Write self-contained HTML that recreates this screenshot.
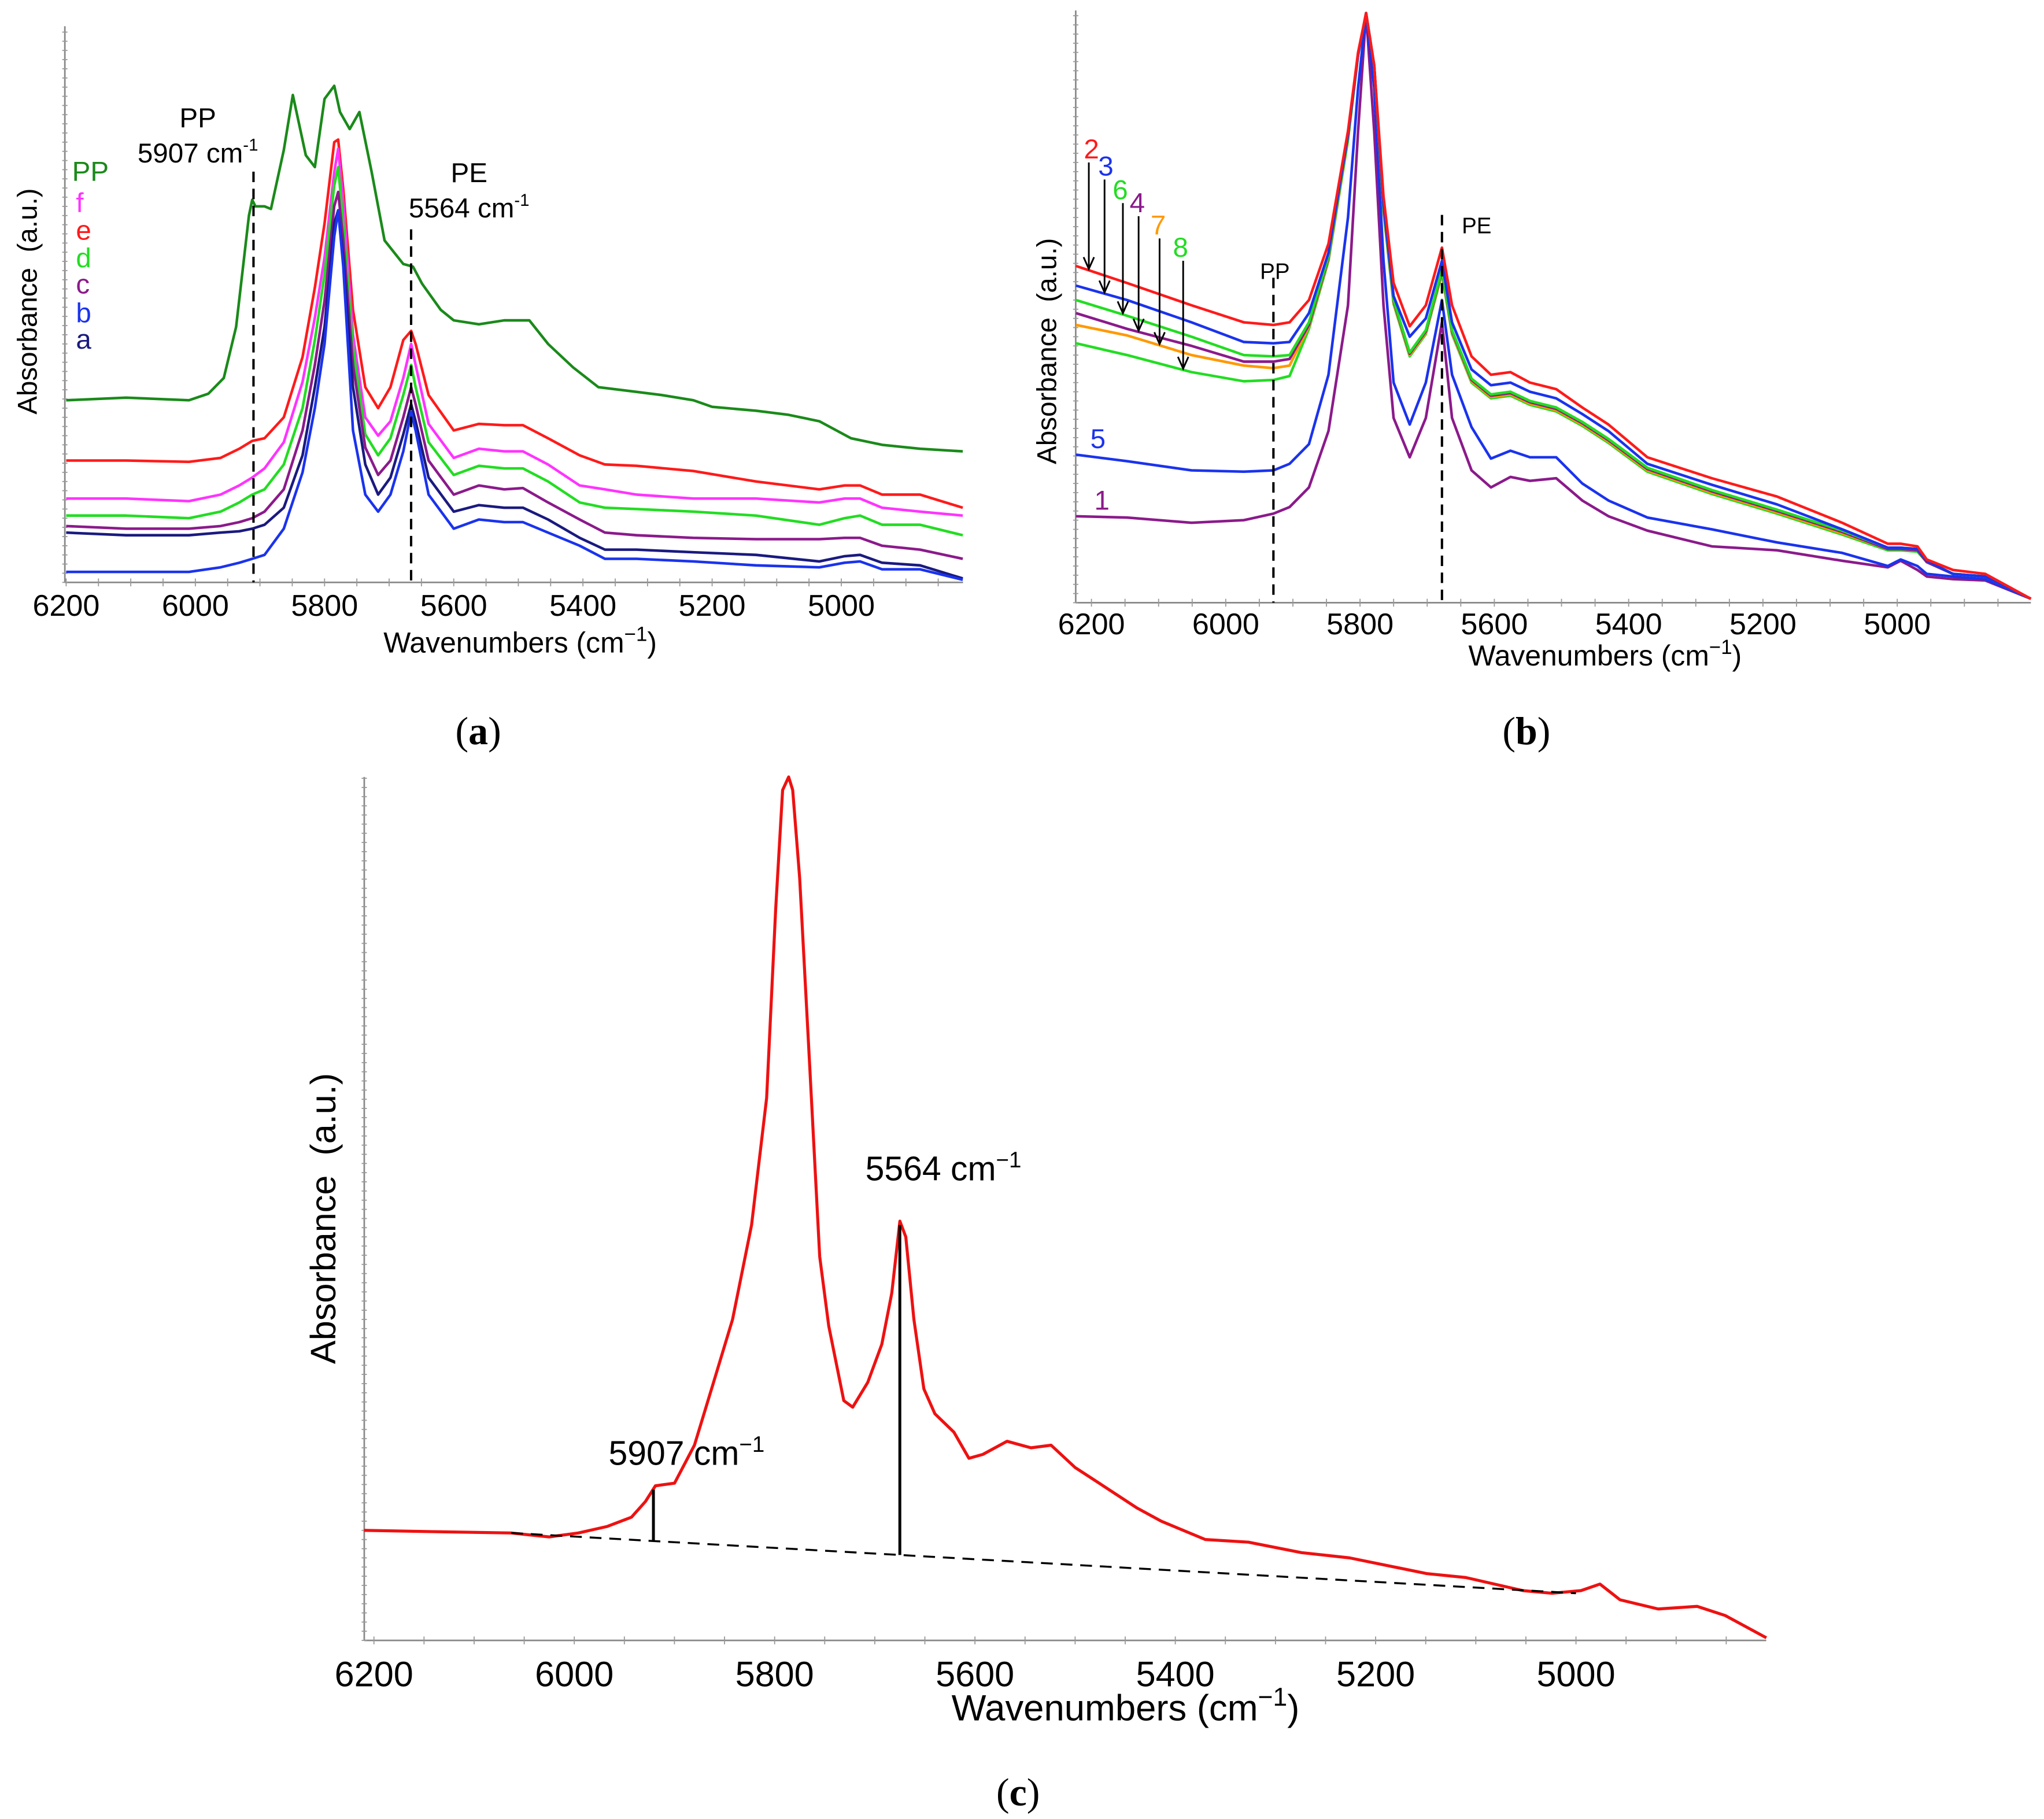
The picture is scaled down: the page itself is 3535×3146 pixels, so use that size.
<!DOCTYPE html>
<html><head><meta charset="utf-8"><style>
html,body{margin:0;padding:0;background:#fff}
svg{display:block}
text{font-family:"Liberation Sans",sans-serif}
.cap{font-family:"Liberation Serif",serif;font-size:30px}
</style></head><body>
<svg id="fig" xmlns="http://www.w3.org/2000/svg" width="3535" height="3146" viewBox="0 0 1560 1388.3" preserveAspectRatio="none">
<g id="pa"></g>
<g id="pb"></g>
<g id="pc"></g>
<text class="cap" x="365" y="568" text-anchor="middle">(<tspan font-weight="bold">a</tspan>)</text>
<text class="cap" x="1165" y="568" text-anchor="middle">(<tspan font-weight="bold">b</tspan>)</text>
<text class="cap" x="777" y="1378" text-anchor="middle">(<tspan font-weight="bold">c</tspan>)</text>
</svg>
<script>
// ---------- Panel A data ----------
const aX = [6200,6107,6010,5961,5932,5912,5893,5863,5834,5815,5800,5785,5779,5771,5756,5737,5717,5698,5678,5666,5659,5639,5600,5561,5522,5493,5454,5405,5366,5317,5229,5132,5034,4995,4971,4937,4878,4812];
const aSeriesA = [8,8,8,11.5,15,18,21,41,84,133,182,264,284,241,116,67,54,67,100,130,116,67,41,48,46,46,38,28,18,18,16,13,11.5,15,16,10,10,2];
const aSeriesB = [38,36,36,38,39,41,44,57,97,149,195,274,284,248,149,90,67,80,113,136,123,80,54,59,57,57,48,34,25,25,23,21,16,20,21,15,13,3];
const aSeriesC = [43,41,41,43,46,49,54,71,116,166,215,287,298,261,166,103,82,93,126,149,136,93,67,74,71,72,61,48,38,36,34,33,33,34,34,28,25,18];
const aSeriesD = [51,51,49,54,61,67,71,90,133,185,235,303,317,274,179,113,97,110,143,166,149,107,82,89,87,87,77,61,57,56,54,51,44,49,51,44,44,36];
const aSeriesF = [64,64,62,67,74,80,87,107,153,202,248,313,331,290,189,126,112,123,156,182,166,121,95,102,100,100,90,74,71,67,64,64,61,64,64,57,54,51];
const aSeriesE = [93,93,92,95,102,108,110,126,172,225,274,336,338,300,208,149,133,149,185,192,182,143,116,121,120,120,110,97,90,89,85,77,71,74,74,67,67,57];
const aPPX = [6200,6107,6010,5980,5956,5937,5917,5912,5907,5893,5883,5863,5849,5829,5815,5800,5785,5776,5761,5746,5727,5707,5678,5663,5649,5620,5600,5561,5522,5483,5454,5415,5376,5327,5278,5229,5200,5132,5083,5034,4985,4937,4878,4812];
const aPP = [139,141,139,144,156,195,280,292,287,287,285,330,372,326,317,369,379,359,346,359,313,261,243,241,228,208,200,197,200,200,182,164,149,146,143,139,134,131,128,123,110,105,102,100];
const aTicks = [6200,6000,5800,5600,5400,5200,5000];
const aMarkers = [5910,5666];
const aMarkerTops = [131,175];
// ---------- Panel B data ----------
const bX = [6223,6147,6051,5973,5929,5905,5876,5847,5818,5803,5791,5779,5765,5750,5726,5702,5678,5663,5634,5605,5576,5547,5508,5469,5430,5372,5276,5179,5082,5014,4995,4970,4956,4917,4869,4801];
const bS2 = [257,244,227,214,212,214,231,274,360,420,450,410,310,244,211,227,271,227,188,174,176,168,163,149,136,111,95,81,61,45,45,43,33,25,22,3];
const bS3 = [242,231,214,199,198,199,221,267,357,418,450,410,304,234,203,217,261,214,178,166,168,161,156,144,131,106,90,75,56,42,42,41,32,22,20,3];
const bS6 = [231,219,203,189,188,189,214,264,355,418,450,410,302,231,191,208,254,208,171,159,161,154,149,138,125,103,86,71,55,42,42,41,32,22,20,3];
const bS4 = [221,209,196,184,184,186,212,263,355,418,450,410,301,230,190,207,253,207,170,158,160,153,148,137,124,102,85,70,54,41,41,40,31,22,20,3];
const bS7 = [212,204,189,181,179,181,211,262,354,418,450,410,300,229,189,206,252,206,169,157,159,152,147,136,123,101,84,69,53,41,41,40,31,22,20,3];
const bS8 = [198,189,176,169,170,173,209,261,353,418,450,410,299,228,188,205,251,205,168,156,158,151,146,135,122,100,83,68,52,40,40,39,31,22,20,3];
const bS5 = [113,108,101,100,101,106,121,174,294,393,450,393,261,168,136,168,231,174,134,110,116,111,111,91,78,65,56,46,38,28,33,28,22,20,18,3];
const bS1 = [66,65,61,63,68,73,88,131,227,360,450,360,227,141,111,141,214,141,101,88,96,93,95,78,66,55,43,40,32,27,32,25,20,18,17,3];
const bTicks = [6200,6000,5800,5600,5400,5200,5000];
const bMarkers = [5929,5678];
const bMarkerTops = [248,296];
// ---------- Panel C data ----------
const cX = [6210,6140,6063,6025,5996,5967,5943,5929,5919,5900,5880,5861,5842,5823,5808,5799,5792,5786,5782,5775,5765,5755,5746,5731,5722,5707,5693,5683,5675,5669,5661,5651,5640,5621,5606,5592,5568,5544,5524,5500,5476,5438,5414,5370,5327,5274,5226,5149,5110,5053,5024,4995,4976,4956,4918,4879,4851,4810];
const cY = [84,83,82,79,82,87,94,106,118,120,149,197,245,317,414,558,649,659,649,582,438,293,240,183,178,197,226,265,320,308,245,192,173,159,139,142,152,147,149,132,120,101,91,77,75,67,63,51,48,38,36,38,43,31,24,26,19,2];
const cTicks = [6200,6000,5800,5600,5400,5200,5000];
const cBaseX = [6063,5000];
const cBaseY = [82,36];
const cPeakX = [5921,5675];
const cPeakY = [115,317];

const NS="http://www.w3.org/2000/svg";
function mk(parent,tag,attrs,name,txt){const e=document.createElementNS(NS,tag);for(const k in attrs)e.setAttribute(k,attrs[k]);


if(txt!==undefined)e.innerHTML=txt;parent.appendChild(e);return e;}
function interp(xs,ys,w){for(let i=0;i<xs.length-1;i++){if((w<=xs[i]&&w>=xs[i+1]))return ys[i]+(ys[i+1]-ys[i])*(xs[i]-w)/(xs[i]-xs[i+1]);}return ys[ys.length-1];}

function panel(g,o){
  const X=w=>o.x0+(o.w0-w)*o.k, Y=v=>o.bottom-v*o.ky;
  mk(g,'line',{x1:o.left,y1:o.top,x2:o.left,y2:o.bottom,stroke:'#888','stroke-width':1.2},'y-axis');
  mk(g,'line',{x1:o.left,y1:o.bottom,x2:o.right,y2:o.bottom,stroke:'#888','stroke-width':1.2},'x-axis');
  for(let y=o.bottom;y>=o.top;y-=o.minor){mk(g,'line',{x1:o.left-2,y1:y,x2:o.left+2,y2:y,stroke:'#999','stroke-width':0.8},'y-minor-tick');}
  for(let x=o.x0;x<=o.right;x+=o.k*50){mk(g,'line',{x1:x,y1:o.bottom-3,x2:x,y2:o.bottom+3,stroke:'#999','stroke-width':0.8},'x-minor-tick');}
  o.ticks.forEach(t=>{mk(g,'text',{x:X(t),y:o.tickY,'text-anchor':'middle','font-size':o.fs,fill:'#000'},'x-tick-label',String(t));});
  mk(g,'text',{x:o.xlx,y:o.xly,'text-anchor':'middle','font-size':o.tfs},'x-axis-title','Wavenumbers (cm<tspan font-size="'+(o.tfs*0.7)+'" dy="-'+(o.tfs*0.4)+'">−1</tspan><tspan dy="'+(o.tfs*0.4)+'">)</tspan>');
  mk(g,'text',{x:o.ylx,y:o.yly,'text-anchor':'middle','font-size':o.yfs,transform:'rotate(-90 '+o.ylx+' '+o.yly+')'},'y-axis-title','Absorbance&#160;&#160;(a.u.)');
  o.series.forEach(s=>{let d='';s.x.forEach((w,i)=>{d+=(i?'L':'M')+X(w).toFixed(1)+' '+Y(s.y[i]).toFixed(1);});
    mk(g,'path',{d:d,fill:'none',stroke:s.c,'stroke-width':o.sw,'stroke-linejoin':'round'},s.n);});
  return {X,Y};
}
const pa=document.getElementById('pa'),pb=document.getElementById('pb'),pc=document.getElementById('pc');
const A=panel(pa,{x0:50.5,w0:6200,k:0.493,bottom:444.5,ky:1,left:49.5,right:735,top:20,minor:7,ticks:aTicks,tickY:470,fs:23,tfs:22,yfs:21,xlx:397,xly:498,ylx:28,yly:230,sw:2,
 series:[{x:aPPX,y:aPP,c:'#1a8a1a',n:'series-pp'},{x:aX,y:aSeriesE,c:'#ff1a1a',n:'series-e'},{x:aX,y:aSeriesF,c:'#ff33ff',n:'series-f'},{x:aX,y:aSeriesD,c:'#22dd22',n:'series-d'},{x:aX,y:aSeriesC,c:'#8b1a8b',n:'series-c'},{x:aX,y:aSeriesB,c:'#1a1a80',n:'series-b'},{x:aX,y:aSeriesA,c:'#1a33ee',n:'series-a'}]});
aMarkers.forEach((m,i)=>{mk(pa,'line',{x1:A.X(m),y1:aMarkerTops[i],x2:A.X(m),y2:444.5,stroke:'#000','stroke-width':1.8,'stroke-dasharray':'8,5'},'marker-line');});
mk(pa,'text',{x:151,y:97,'text-anchor':'middle','font-size':21},'pp-label','PP');
mk(pa,'text',{x:151,y:124,'text-anchor':'middle','font-size':21},'pp-wavenumber','5907 cm<tspan font-size="13" dy="-9">-1</tspan>');
mk(pa,'text',{x:358,y:139,'text-anchor':'middle','font-size':21},'pe-label','PE');
mk(pa,'text',{x:358,y:166,'text-anchor':'middle','font-size':21},'pe-wavenumber','5564 cm<tspan font-size="13" dy="-9">-1</tspan>');
[['PP','#1a8a1a',138,55],['f','#ff33ff',162,58],['e','#ff1a1a',183,58],['d','#22dd22',204,58],['c','#8b1a8b',224,58],['b','#1a33ee',246,58],['a','#1a1a80',266,58]].forEach(l=>{
  mk(pa,'text',{x:l[3],y:l[2],'font-size':21,fill:l[1]},'legend-entry',l[0]);});

const B=panel(pb,{x0:833,w0:6200,k:0.5125,bottom:460,ky:1,left:821,right:1550,top:8,minor:7,ticks:bTicks,tickY:484,fs:23,tfs:22,yfs:21,xlx:1225,xly:508,ylx:806,yly:268,sw:2,
 series:[{x:bX,y:bS1,c:'#8b1a8b',n:'series-1'},{x:bX,y:bS5,c:'#1a33ee',n:'series-5'},{x:bX,y:bS8,c:'#22dd22',n:'series-8'},{x:bX,y:bS7,c:'#ff9900',n:'series-7'},{x:bX,y:bS4,c:'#8b1a8b',n:'series-4'},{x:bX,y:bS6,c:'#22dd22',n:'series-6'},{x:bX,y:bS3,c:'#1a33ee',n:'series-3'},{x:bX,y:bS2,c:'#ff1a1a',n:'series-2'}]});
bMarkers.forEach((m,i)=>{mk(pb,'line',{x1:B.X(m),y1:B.Y(bMarkerTops[i]),x2:B.X(m),y2:460,stroke:'#000','stroke-width':1.8,'stroke-dasharray':'8,5'},'marker-line');});
mk(pb,'text',{x:973,y:213,'text-anchor':'middle','font-size':17},'pp-label','PP');
mk(pb,'text',{x:1127,y:178,'text-anchor':'middle','font-size':17},'pe-label','PE');
[['2','#ff1a1a',833,121,831,bS2],['3','#1a33ee',844,134,843,bS3],['6','#22dd22',855,152,857,bS6],['4','#8b1a8b',868,162,869,bS4],['7','#ff9900',884,179,885,bS7],['8','#22dd22',901,196,903,bS8]].forEach(l=>{
  mk(pb,'text',{x:l[2],y:l[3],'text-anchor':'middle','font-size':21,fill:l[1]},'series-label',l[0]);
  const w=6200-(l[4]-833)/0.5125;const yb=B.Y(interp(bX,l[5],w));
  mk(pb,'line',{x1:l[4],y1:l[3]+3,x2:l[4],y2:yb-2,stroke:'#000','stroke-width':1.3},'arrow-line');
  mk(pb,'path',{d:'M'+(l[4]-4)+' '+(yb-10)+'L'+l[4]+' '+(yb-1)+'L'+(l[4]+4)+' '+(yb-10),fill:'none',stroke:'#000','stroke-width':1.3},'arrow-head');});
mk(pb,'text',{x:838,y:342,'text-anchor':'middle','font-size':21,fill:'#1a33ee'},'series-label','5');
mk(pb,'text',{x:841,y:389,'text-anchor':'middle','font-size':21,fill:'#8b1a8b'},'series-label','1');

const C=panel(pc,{x0:285.4,w0:6200,k:0.7645,bottom:1252,ky:1,left:278,right:1348,top:593,minor:7,ticks:cTicks,tickY:1287,fs:27,tfs:28,yfs:27,xlx:859,xly:1313,ylx:256,yly:930,sw:2.3,
 series:[{x:cX,y:cY,c:'#ee1111',n:'spectrum-line'}]});
mk(pc,'line',{x1:C.X(cBaseX[0]),y1:C.Y(cBaseY[0]),x2:C.X(cBaseX[1]),y2:C.Y(cBaseY[1]),stroke:'#000','stroke-width':1.5,'stroke-dasharray':'9,6'},'baseline');
cPeakX.forEach((w,i)=>{const yb=cBaseY[0]+(cBaseY[1]-cBaseY[0])*(cBaseX[0]-w)/(cBaseX[0]-cBaseX[1]);
  mk(pc,'line',{x1:C.X(w),y1:C.Y(cPeakY[i]),x2:C.X(w),y2:C.Y(yb),stroke:'#000','stroke-width':2.2},'peak-height-line');});
mk(pc,'text',{x:524,y:1118,'text-anchor':'middle','font-size':26},'pp-peak-label','5907 cm<tspan font-size="17" dy="-10">−1</tspan>');
mk(pc,'text',{x:720,y:901,'text-anchor':'middle','font-size':26},'pe-peak-label','5564 cm<tspan font-size="17" dy="-10">−1</tspan>');
</script>
</body></html>
